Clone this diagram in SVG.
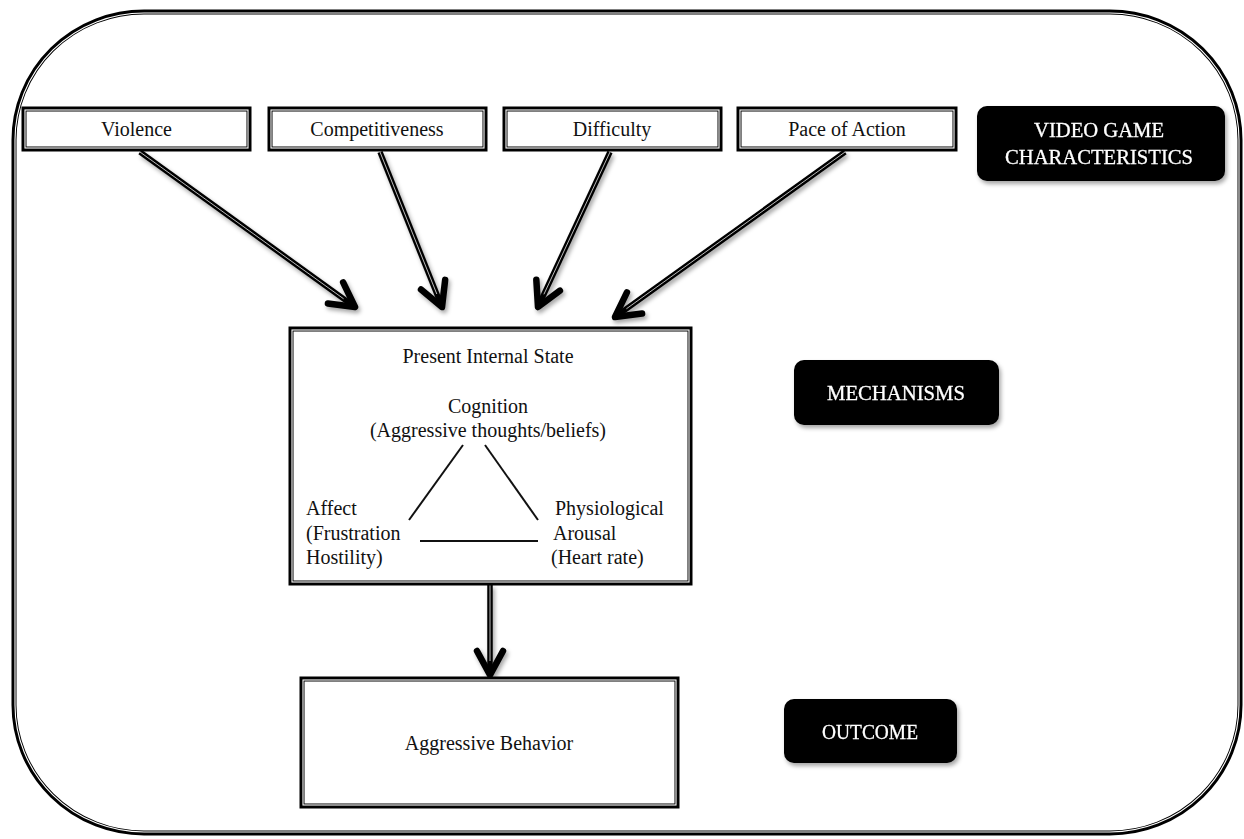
<svg xmlns="http://www.w3.org/2000/svg" width="1244" height="839" viewBox="0 0 1244 839">
<style>
.frame{fill:none;stroke:#000;stroke-width:5}
.gap{fill:none;stroke:#fff;stroke-width:1.1}
.box{fill:#fff;stroke:#000;stroke-width:5}
.lbl{font-family:"Liberation Serif","Times New Roman",serif;font-size:20px;fill:#111;text-anchor:middle}
.txt{font-family:"Liberation Serif","Times New Roman",serif;font-size:20px;fill:#111}
.tag{fill:#000}
.tagt{font-family:"Liberation Serif","Times New Roman",serif;font-size:20px;fill:#fff;stroke:#fff;stroke-width:0.3;text-anchor:middle}
.arr{fill:none;stroke:#000;stroke-width:5.5;marker-end:url(#chev)}
.arri{fill:none;stroke:#bbb;stroke-width:1}
.tri{fill:none;stroke:#111;stroke-width:2}
</style>
<defs>
<filter id="sh" filterUnits="userSpaceOnUse" x="0" y="0" width="1244" height="839">
<feDropShadow dx="2" dy="3" stdDeviation="2" flood-color="#000" flood-opacity="0.35"/>
</filter>
<marker id="chev" viewBox="-30 -20 38 40" refX="0" refY="0" markerWidth="38" markerHeight="40" markerUnits="userSpaceOnUse" orient="auto">
<path d="M-24,-13 L0,0 L-24,13" fill="none" stroke="#000" stroke-width="6.5" stroke-linecap="round" stroke-linejoin="round"/>
</marker>
</defs>
<rect width="1244" height="839" fill="#fff"/>
<g id="frame">
<rect class="frame" x="14" y="12" width="1226" height="821" rx="130" ry="128"/>
<rect class="gap" x="15" y="13" width="1224" height="819" rx="129" ry="127"/>
</g>
<g id="connectors">
<path class="arr" filter="url(#sh)" d="M140,152 L355,307"/>
<path class="arri" d="M140,152 L343.6,298.8"/>
<path class="arr" filter="url(#sh)" d="M380,152 L442,307"/>
<path class="arri" d="M380,152 L436.8,294"/>
<path class="arr" filter="url(#sh)" d="M610,152 L538,307"/>
<path class="arri" d="M610,152 L543.9,294.3"/>
<path class="arr" filter="url(#sh)" d="M845,152 L615,317"/>
<path class="arri" d="M845,152 L626.4,308.8"/>
<path class="arr" filter="url(#sh)" d="M490,585 L490,675"/>
<path class="arri" d="M490,585 L490,661"/>
</g>
<g id="violence">
<rect class="box" x="24" y="109" width="225" height="40"/>
<rect class="gap" x="25" y="110" width="223" height="38"/>
<text class="lbl" x="136.5" y="136">Violence</text>
</g>
<g id="competitiveness">
<rect class="box" x="270" y="109" width="215" height="40"/>
<rect class="gap" x="271" y="110" width="213" height="38"/>
<text class="lbl" x="377" y="136">Competitiveness</text>
</g>
<g id="difficulty">
<rect class="box" x="505" y="109" width="215" height="40"/>
<rect class="gap" x="506" y="110" width="213" height="38"/>
<text class="lbl" x="612" y="136">Difficulty</text>
</g>
<g id="pace">
<rect class="box" x="739" y="109" width="216" height="40"/>
<rect class="gap" x="740" y="110" width="214" height="38"/>
<text class="lbl" x="847" y="136">Pace of Action</text>
</g>
<g id="internal-state">
<rect class="box" x="291" y="329" width="399" height="254"/>
<rect class="gap" x="292" y="330" width="397" height="252"/>
<text class="lbl" x="488" y="363">Present Internal  State</text>
<text class="lbl" x="488" y="413">Cognition</text>
<text class="lbl" x="488" y="437">(Aggressive thoughts/beliefs)</text>
<line class="tri" x1="463" y1="445" x2="409" y2="520"/>
<line class="tri" x1="485" y1="445" x2="538" y2="520"/>
<line class="tri" x1="420" y1="541" x2="538" y2="541"/>
<text class="txt" x="306" y="515">Affect</text>
<text class="txt" x="306" y="540">(Frustration</text>
<text class="txt" x="306" y="564">Hostility)</text>
<text class="txt" x="555" y="515">Physiological</text>
<text class="txt" x="553" y="540">Arousal</text>
<text class="txt" x="551" y="564">(Heart rate)</text>
</g>
<g id="behavior">
<rect class="box" x="302" y="679" width="375" height="127"/>
<rect class="gap" x="303" y="680" width="373" height="125"/>
<text class="lbl" x="489" y="750">Aggressive Behavior</text>
</g>
<g id="tag-characteristics" filter="url(#sh)">
<rect class="tag" x="977" y="106" width="248" height="75" rx="10"/>
<text class="tagt" x="1099" y="137" textLength="130" lengthAdjust="spacingAndGlyphs">VIDEO GAME</text>
<text class="tagt" x="1099" y="164" textLength="188" lengthAdjust="spacingAndGlyphs">CHARACTERISTICS</text>
</g>
<g id="tag-mechanisms" filter="url(#sh)">
<rect class="tag" x="794" y="360" width="205" height="65" rx="10"/>
<text class="tagt" x="896" y="400" textLength="138" lengthAdjust="spacingAndGlyphs">MECHANISMS</text>
</g>
<g id="tag-outcome" filter="url(#sh)">
<rect class="tag" x="784" y="699" width="173" height="64" rx="10"/>
<text class="tagt" x="870" y="739" textLength="96" lengthAdjust="spacingAndGlyphs">OUTCOME</text>
</g>
</svg>
